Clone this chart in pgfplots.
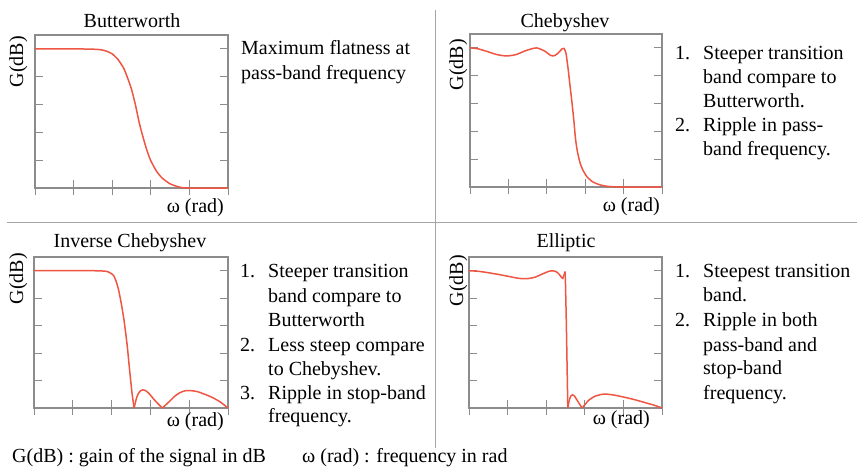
\documentclass[border=0pt]{standalone}
\usepackage{pgfplots}
\pgfplotsset{compat=1.18}
\usepackage{fontspec}
\setmainfont{Liberation Serif}
\definecolor{curve}{RGB}{238,85,66}
\definecolor{axgray}{RGB}{140,140,140}
\definecolor{sepgray}{RGB}{165,165,165}
\pgfplotsset{
  panel/.style={
    scale only axis, width=193bp, height=153bp,
    xmin=0, xmax=5, ymin=0, ymax=5.5,
    xtick={0,1,2,3,4,5}, ytick={0}, minor ytick={1,2,3,4,5},
    xticklabels={}, yticklabels={},
    axis line style={draw=axgray, line width=1.1bp},
    tick style={draw=axgray, line width=0.9bp},
    major tick length=15bp, minor tick length=8bp,
    xtick pos=left, ytick pos=both,
    xtick align=center, ytick align=inside,
    clip=false,
  },
  fc/.style={curve, line width=1.5bp, no marks},
}
\begin{document}
\begin{tikzpicture}[x=1bp,y=1bp, every node/.style={font=\fontsize{20bp}{24bp}\selectfont, inner sep=0pt}]
\useasboundingbox (0,0) rectangle (857,471);

% separators
\draw[sepgray, line width=1.2bp] (7,248.7) -- (857,248.7);
\draw[sepgray, line width=1.2bp] (435.5,461) -- (435.5,23);

% ---------- Butterworth ----------
\begin{axis}[panel, at={(35bp,283bp)}, anchor=south west]
\addplot[fc, smooth, tension=0.4] coordinates {
(0,5) (1.0,5) (1.5,4.99) (1.7,4.97) (1.85,4.92) (2.0,4.82) (2.15,4.62) (2.3,4.3) (2.4,3.95) (2.5,3.55) (2.6,3.0) (2.7,2.35) (2.8,1.82) (2.9,1.35) (3.0,0.98) (3.15,0.6) (3.3,0.35) (3.5,0.15) (3.7,0.05) (3.93,0) (5,0)};
\end{axis}
\node[anchor=base] at (132,443) {Butterworth};
\node[anchor=base east, rotate=90] at (23,435) {G(dB)};
\node[anchor=base east] at (224,258) {ω (rad)};
\node[anchor=base west] at (241,416) {Maximum flatness at};
\node[anchor=base west] at (241,391) {pass-band frequency};

% ---------- Chebyshev ----------
\begin{axis}[panel, width=192bp, at={(470bp,284bp)}, anchor=south west]
\addplot[fc, smooth, tension=0.4] coordinates {
(0,5) (0.2,4.97) (0.45,4.87) (0.7,4.76) (0.95,4.71) (1.2,4.76) (1.45,4.9) (1.73,5.0) (1.95,4.88) (2.1,4.73) (2.2,4.72) (2.3,4.82) (2.4,4.97) (2.45,4.98) (2.5,4.8) (2.55,4.3) (2.6,3.7) (2.65,3.1) (2.7,2.45) (2.75,1.7) (2.8,1.25) (2.87,0.85) (2.95,0.58) (3.05,0.36) (3.2,0.18) (3.4,0.07) (3.6,0.02) (3.9,0) (5,0)};
\end{axis}
\node[anchor=base] at (565,443) {Chebyshev};
\node[anchor=base east, rotate=90] at (463,432) {G(dB)};
\node[anchor=base east] at (660,259) {ω (rad)};
\node[anchor=base west] at (675,411) {1.};
\node[anchor=base west] at (703,411) {Steeper transition};
\node[anchor=base west] at (703,387) {band compare to};
\node[anchor=base west] at (703,363) {Butterworth.};
\node[anchor=base west] at (675,339) {2.};
\node[anchor=base west] at (703,339) {Ripple in pass-};
\node[anchor=base west] at (703,315) {band frequency.};

% ---------- Inverse Chebyshev ----------
\begin{axis}[panel, width=194bp, height=151bp, at={(34bp,63bp)}, anchor=south west]
\addplot[fc, smooth, tension=0.4] coordinates {
(0,5) (1.5,5) (1.85,4.98) (1.95,4.93) (2.05,4.83) (2.12,4.6) (2.18,4.3) (2.25,3.8) (2.32,3.2) (2.4,2.3) (2.47,1.3) (2.53,0.5) (2.58,0)};
\addplot[fc, smooth, tension=0.4] coordinates {
(2.58,0) (2.63,0.3) (2.68,0.5) (2.74,0.62) (2.8,0.66) (2.88,0.63) (2.97,0.52) (3.1,0.3) (3.22,0.12) (3.31,0)};
\addplot[fc, smooth, tension=0.4] coordinates {
(3.31,0) (3.4,0.12) (3.5,0.25) (3.62,0.42) (3.75,0.55) (3.9,0.63) (4.05,0.63) (4.2,0.6) (4.4,0.5) (4.6,0.38) (4.8,0.22) (5,0)};
\end{axis}
\node[anchor=base] at (130,223) {Inverse Chebyshev};
\node[anchor=base east, rotate=90] at (23,218) {G(dB)};
\node[anchor=base east] at (224,44) {ω (rad)};
\node[anchor=base west] at (240,193) {1.};
\node[anchor=base west] at (268,193) {Steeper transition};
\node[anchor=base west] at (268,168) {band compare to};
\node[anchor=base west] at (268,144) {Butterworth};
\node[anchor=base west] at (240,119) {2.};
\node[anchor=base west] at (268,119) {Less steep compare};
\node[anchor=base west] at (268,95) {to Chebyshev.};
\node[anchor=base west] at (240,71) {3.};
\node[anchor=base west] at (268,71) {Ripple in stop-band};
\node[anchor=base west] at (268,48) {frequency.};

% ---------- Elliptic ----------
\begin{axis}[panel, height=151bp, at={(469bp,63bp)}, anchor=south west]
\addplot[fc, smooth, tension=0.4] coordinates {
(0,5) (0.3,4.97) (0.7,4.88) (1.0,4.8) (1.3,4.72) (1.5,4.71) (1.7,4.76) (1.9,4.88) (2.05,4.97) (2.14,5.0) (2.25,4.97) (2.33,4.88) (2.4,4.75) (2.43,4.72) (2.47,4.88) (2.49,4.97)};
\addplot[fc] coordinates {
(2.49,4.97) (2.5,4.5) (2.52,3.2) (2.54,1.6) (2.56,0)};
\addplot[fc, smooth, tension=0.4] coordinates {
(2.56,0) (2.6,0.3) (2.64,0.44) (2.68,0.48) (2.73,0.44) (2.78,0.33) (2.86,0.15) (2.93,0)};
\addplot[fc, smooth, tension=0.4] coordinates {
(2.93,0) (3.02,0.15) (3.1,0.28) (3.25,0.42) (3.45,0.5) (3.6,0.5) (3.8,0.46) (4.0,0.4) (4.3,0.3) (4.6,0.18) (4.8,0.1) (5,0)};
\end{axis}
\node[anchor=base] at (566,223) {Elliptic};
\node[anchor=base east, rotate=90] at (463,216) {G(dB)};
\node[anchor=base east] at (650,46) {ω (rad)};
\node[anchor=base west] at (675,193) {1.};
\node[anchor=base west] at (703,193) {Steepest transition};
\node[anchor=base west] at (703,169) {band.};
\node[anchor=base west] at (675,144) {2.};
\node[anchor=base west] at (703,144) {Ripple in both};
\node[anchor=base west] at (703,119) {pass-band and};
\node[anchor=base west] at (703,96) {stop-band};
\node[anchor=base west] at (703,71) {frequency.};

% ---------- footer ----------
\node[anchor=base west] at (12,8) {G(dB) : gain of the signal in dB};
\node[anchor=base west] at (302,8) {ω (rad) : frequency in rad};
\end{tikzpicture}
\end{document}
